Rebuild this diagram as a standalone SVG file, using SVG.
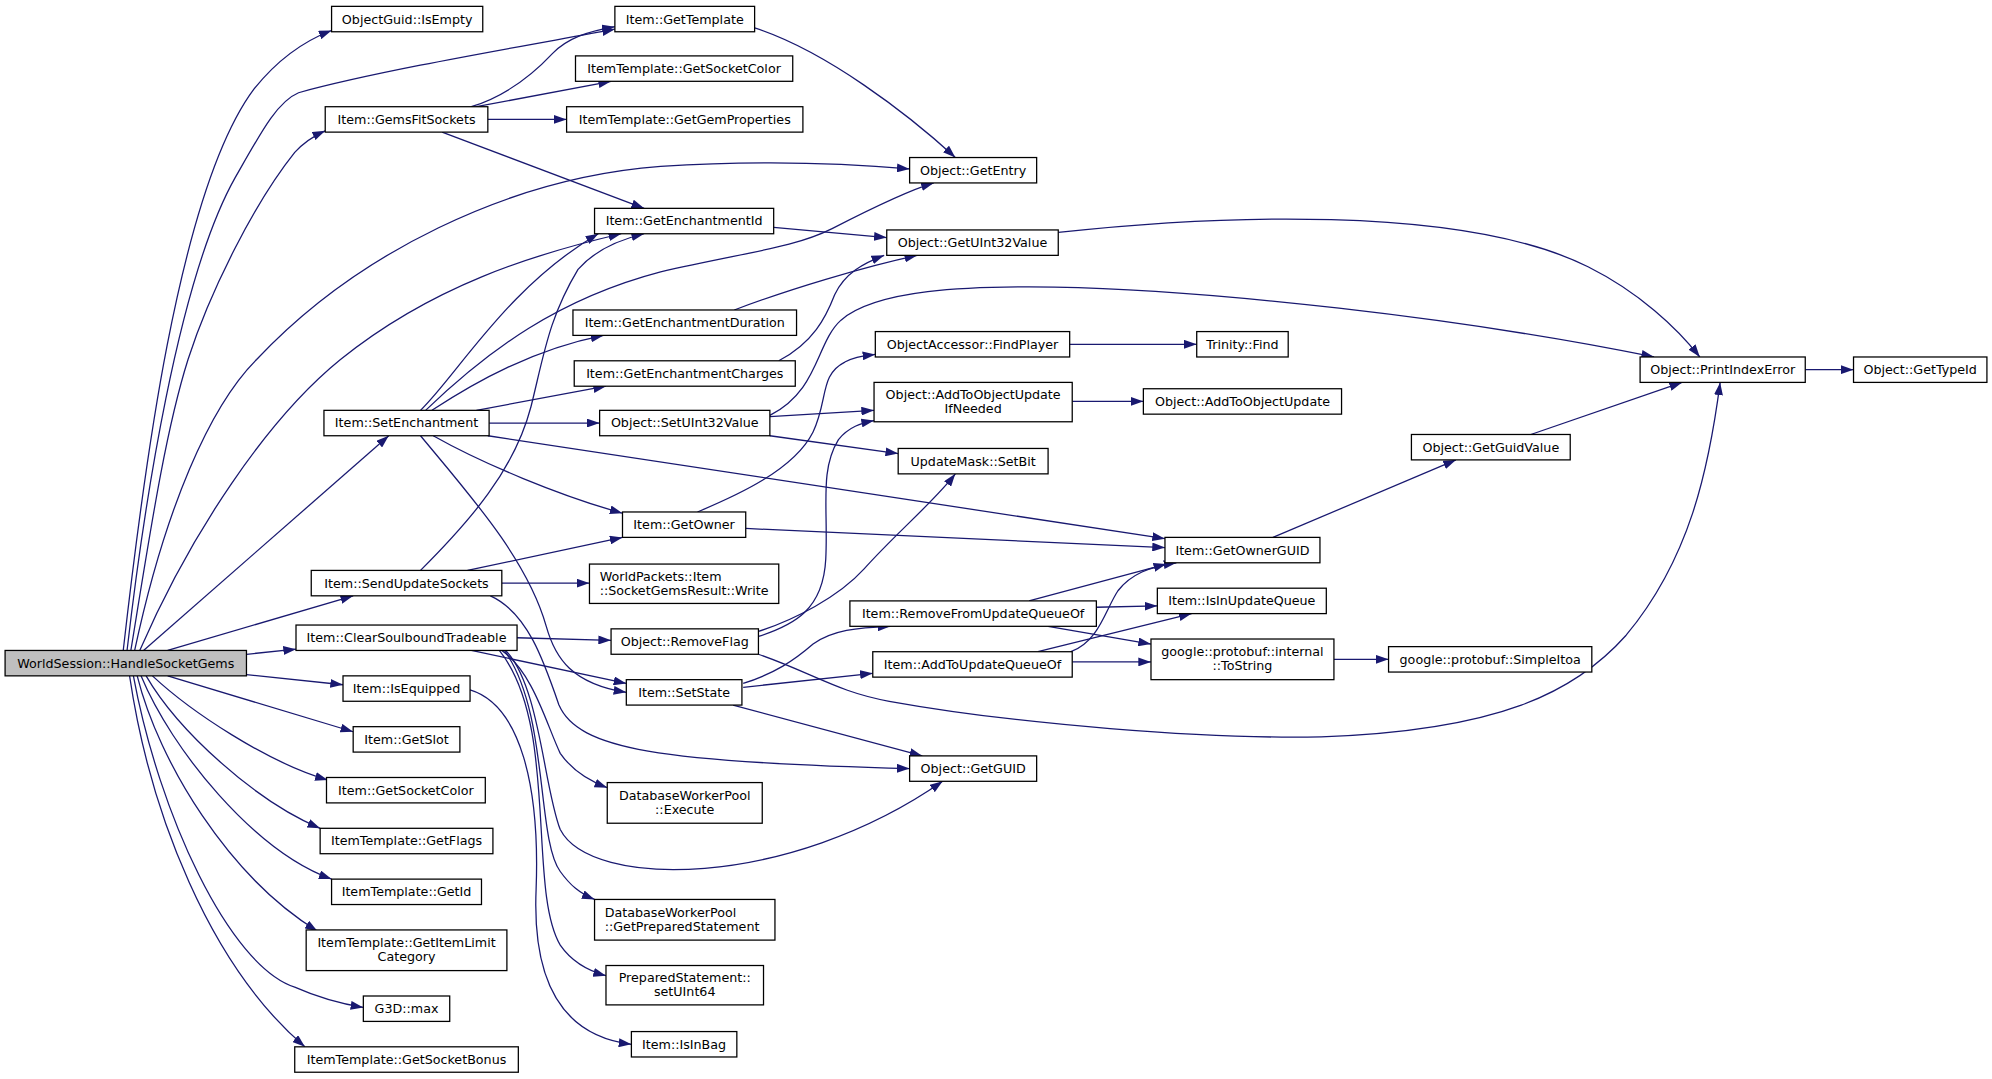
<svg xmlns="http://www.w3.org/2000/svg" width="1992" height="1079" viewBox="0 0 1992 1079">
<defs>
<style>
.node rect{fill:#ffffff;stroke:#000000;stroke-width:1}
.node.root rect{fill:#bfbfbf}
.node text{font-family:"DejaVu Sans","Liberation Sans",sans-serif;font-size:10px;fill:#000000;text-anchor:middle}
.node text.l{text-anchor:start}
.edge{fill:none;stroke:#191970;stroke-width:1;marker-end:url(#arr)}
</style>
<marker id="arr" markerUnits="userSpaceOnUse" viewBox="0 0 10 7" markerWidth="10" markerHeight="7" refX="10" refY="3.5" orient="auto">
<path d="M0,0 L10,3.5 L0,7 Z" fill="#191970"/>
</marker>
</defs>
<rect x="0" y="0" width="1992" height="1079" fill="#ffffff"/>
<g transform="scale(1.270408)">
<g id="edges">
<path class="edge" d="M97,512 C112,380 140,150 200,70 C220,45 240,32 261,24"/>
<path class="edge" d="M100,512 C113,400 140,220 185,140 C205,105 218,80 235,73 C300,55 420,35 484,23"/>
<path class="edge" d="M103,512 C118,420 130,340 148,283 C165,230 200,160 232,120 C240,111 247,107 256,103"/>
<path class="edge" d="M106,512 C130,400 165,320 202,283 C280,200 400,140 520,131 C600,126 660,128 716,133"/>
<path class="edge" d="M110,512 C150,420 210,330 268,283 C340,225 420,200 489,184"/>
<path class="edge" d="M113,512 L306,343"/>
<path class="edge" d="M132,512 L278,469"/>
<path class="edge" d="M194,515 L233,511"/>
<path class="edge" d="M194,531 L270,539"/>
<path class="edge" d="M132,532 L278,576"/>
<path class="edge" d="M120,532 C150,560 210,600 258,614"/>
<path class="edge" d="M115,532 C140,575 200,630 252,652"/>
<path class="edge" d="M111,532 C135,590 200,670 261,692"/>
<path class="edge" d="M108,532 C125,600 180,690 250,733"/>
<path class="edge" d="M105,532 C125,640 180,760 232,777 C250,785 268,790 286,793"/>
<path class="edge" d="M102,532 C118,640 165,760 240,824"/>
<path class="edge" d="M371,84 C400,75 420,58 435,42 C447,30 462,25 484,21"/>
<path class="edge" d="M375,84 L481,64"/>
<path class="edge" d="M384,94 L446,94"/>
<path class="edge" d="M348,104 L507,164"/>
<path class="edge" d="M594,22 C650,40 715,90 752,124"/>
<path class="edge" d="M609,179 L698,187"/>
<path class="edge" d="M833,183 C950,170 1150,160 1250,210 C1290,230 1320,258 1338,281"/>
<path class="edge" d="M578,244 C620,228 680,210 722,201"/>
<path class="edge" d="M613,284 C640,270 650,250 657,232 C665,215 680,207 696,201"/>
<path class="edge" d="M331,323 C360,295 400,225 471,184"/>
<path class="edge" d="M335,323 C385,275 440,235 520,214 C590,198 625,195 655,180 C690,162 715,150 735,144"/>
<path class="edge" d="M340,323 C375,300 420,275 475,264"/>
<path class="edge" d="M375,323 L477,304"/>
<path class="edge" d="M385,333 L472,333"/>
<path class="edge" d="M384,343 L917,424"/>
<path class="edge" d="M341,343 C380,365 440,390 490,404"/>
<path class="edge" d="M331,343 C370,390 415,440 430,493 C437,518 450,538 493,545"/>
<path class="edge" d="M606,328 L688,323"/>
<path class="edge" d="M606,343 L707,357"/>
<path class="edge" d="M606,327 C645,307 642,270 662,252 C690,228 760,225 830,226 C950,228 1150,250 1302,281"/>
<path class="edge" d="M842,271 L942,271"/>
<path class="edge" d="M844,316 L900,316"/>
<path class="edge" d="M1421,291 L1459,291"/>
<path class="edge" d="M1205,342 L1324,301"/>
<path class="edge" d="M1002,423 L1146,362"/>
<path class="edge" d="M587,416 L917,431"/>
<path class="edge" d="M549,403 C580,390 625,370 640,340 C652,315 645,295 665,285 C672,281 680,280 689,279"/>
<path class="edge" d="M368,449 L490,423"/>
<path class="edge" d="M395,459 L464,459"/>
<path class="edge" d="M331,449 C370,410 405,370 418,320 C428,280 432,250 455,212 C470,195 490,188 507,184"/>
<path class="edge" d="M386,469 C415,482 428,520 440,555 C455,590 520,600 716,605"/>
<path class="edge" d="M407,502 L481,504"/>
<path class="edge" d="M371,512 L493,538"/>
<path class="edge" d="M398,512 C425,540 428,620 441,653 C465,700 620,700 742,615"/>
<path class="edge" d="M395,512 C420,530 430,570 441,593 C450,606 462,614 478,620"/>
<path class="edge" d="M397,512 C432,560 422,660 441,686 C449,697 456,703 468,708"/>
<path class="edge" d="M393,512 C440,570 415,700 441,744 C450,757 462,764 477,768"/>
<path class="edge" d="M370,543 C410,555 425,620 422,700 C419,770 440,815 497,822"/>
<path class="edge" d="M597,501 C625,492 648,480 650,440 C652,400 645,370 660,346 C668,336 678,333 688,331"/>
<path class="edge" d="M597,497 C625,488 660,470 680,448 C705,420 735,395 752,373"/>
<path class="edge" d="M597,515 C640,530 660,545 700,552 C800,570 950,582 1040,580 C1180,575 1240,545 1280,500 C1330,440 1345,370 1354,301"/>
<path class="edge" d="M585,538 C610,530 625,520 640,507 C655,496 675,494 701,493"/>
<path class="edge" d="M585,541 L687,530"/>
<path class="edge" d="M577,555 L726,595"/>
<path class="edge" d="M810,473 L918,444"/>
<path class="edge" d="M863,478 L911,477"/>
<path class="edge" d="M825,493 L906,507"/>
<path class="edge" d="M843,513 C865,505 870,480 880,465 C890,452 905,446 926,443"/>
<path class="edge" d="M817,513 L938,483"/>
<path class="edge" d="M844,521 L906,521"/>
<path class="edge" d="M1050,519 L1093,519"/>
</g>
<g id="n1" class="node root"><rect x="4" y="512" width="190" height="20"/><text x="99" y="525.5">WorldSession::HandleSocketGems</text></g>
<g id="n2" class="node"><rect x="261" y="5" width="119" height="20"/><text x="320.5" y="18.5">ObjectGuid::IsEmpty</text></g>
<g id="n3" class="node"><rect x="484" y="5" width="110" height="20"/><text x="539" y="18.5">Item::GetTemplate</text></g>
<g id="n4" class="node"><rect x="453" y="44" width="171" height="20"/><text x="538.5" y="57.5">ItemTemplate::GetSocketColor</text></g>
<g id="n5" class="node"><rect x="256" y="84" width="128" height="20"/><text x="320" y="97.5">Item::GemsFitSockets</text></g>
<g id="n6" class="node"><rect x="446" y="84" width="186" height="20"/><text x="539" y="97.5">ItemTemplate::GetGemProperties</text></g>
<g id="n7" class="node"><rect x="716" y="124" width="100" height="20"/><text x="766" y="137.5">Object::GetEntry</text></g>
<g id="n8" class="node"><rect x="468" y="164" width="141" height="20"/><text x="538.5" y="177.5">Item::GetEnchantmentId</text></g>
<g id="n9" class="node"><rect x="698" y="181" width="135" height="20"/><text x="765.5" y="194.5">Object::GetUInt32Value</text></g>
<g id="n10" class="node"><rect x="451" y="244" width="176" height="20"/><text x="539" y="257.5">Item::GetEnchantmentDuration</text></g>
<g id="n11" class="node"><rect x="689" y="261" width="153" height="20"/><text x="765.5" y="274.5">ObjectAccessor::FindPlayer</text></g>
<g id="n12" class="node"><rect x="942" y="261" width="72" height="20"/><text x="978" y="274.5">Trinity::Find</text></g>
<g id="n13" class="node"><rect x="452" y="284" width="174" height="20"/><text x="539" y="297.5">Item::GetEnchantmentCharges</text></g>
<g id="n14" class="node"><rect x="1291" y="281" width="130" height="20"/><text x="1356" y="294.5">Object::PrintIndexError</text></g>
<g id="n15" class="node"><rect x="1459" y="281" width="105" height="20"/><text x="1511.5" y="294.5">Object::GetTypeId</text></g>
<g id="n16" class="node"><rect x="255" y="323" width="130" height="20"/><text x="320" y="336.5">Item::SetEnchantment</text></g>
<g id="n17" class="node"><rect x="472" y="323" width="134" height="20"/><text x="539" y="336.5">Object::SetUInt32Value</text></g>
<g id="n18" class="node"><rect x="688" y="301" width="156" height="31"/><text x="766" y="314">Object::AddToObjectUpdate</text><text x="766" y="325">IfNeeded</text></g>
<g id="n19" class="node"><rect x="900" y="306" width="156" height="20"/><text x="978" y="319.5">Object::AddToObjectUpdate</text></g>
<g id="n20" class="node"><rect x="707" y="353" width="118" height="20"/><text x="766" y="366.5">UpdateMask::SetBit</text></g>
<g id="n21" class="node"><rect x="1111" y="342" width="125" height="20"/><text x="1173.5" y="355.5">Object::GetGuidValue</text></g>
<g id="n22" class="node"><rect x="490" y="403" width="97" height="20"/><text x="538.5" y="416.5">Item::GetOwner</text></g>
<g id="n23" class="node"><rect x="917" y="423" width="122" height="20"/><text x="978" y="436.5">Item::GetOwnerGUID</text></g>
<g id="n24" class="node"><rect x="245" y="449" width="150" height="20"/><text x="320" y="462.5">Item::SendUpdateSockets</text></g>
<g id="n25" class="node"><rect x="464" y="444" width="149" height="31"/><text class="l" x="472" y="457">WorldPackets::Item</text><text class="l" x="472" y="468">::SocketGemsResult::Write</text></g>
<g id="n26" class="node"><rect x="233" y="492" width="174" height="20"/><text x="320" y="505.5">Item::ClearSoulboundTradeable</text></g>
<g id="n27" class="node"><rect x="481" y="495" width="116" height="20"/><text x="539" y="508.5">Object::RemoveFlag</text></g>
<g id="n28" class="node"><rect x="669" y="473" width="194" height="20"/><text x="766" y="486.5">Item::RemoveFromUpdateQueueOf</text></g>
<g id="n29" class="node"><rect x="911" y="463" width="133" height="20"/><text x="977.5" y="476.5">Item::IsInUpdateQueue</text></g>
<g id="n30" class="node"><rect x="687" y="513" width="157" height="20"/><text x="765.5" y="526.5">Item::AddToUpdateQueueOf</text></g>
<g id="n31" class="node"><rect x="906" y="503" width="144" height="32"/><text x="978" y="516.5">google::protobuf::internal</text><text x="978" y="527.5">::ToString</text></g>
<g id="n32" class="node"><rect x="1093" y="509" width="160" height="20"/><text x="1173" y="522.5">google::protobuf::SimpleItoa</text></g>
<g id="n33" class="node"><rect x="270" y="532" width="100" height="20"/><text x="320" y="545.5">Item::IsEquipped</text></g>
<g id="n34" class="node"><rect x="493" y="535" width="91" height="20"/><text x="538.5" y="548.5">Item::SetState</text></g>
<g id="n35" class="node"><rect x="278" y="572" width="84" height="20"/><text x="320" y="585.5">Item::GetSlot</text></g>
<g id="n36" class="node"><rect x="716" y="595" width="100" height="20"/><text x="766" y="608.5">Object::GetGUID</text></g>
<g id="n37" class="node"><rect x="257" y="612" width="125" height="20"/><text x="319.5" y="625.5">Item::GetSocketColor</text></g>
<g id="n38" class="node"><rect x="478" y="616" width="122" height="32"/><text x="539" y="629.5">DatabaseWorkerPool</text><text x="539" y="640.5">::Execute</text></g>
<g id="n39" class="node"><rect x="252" y="652" width="136" height="20"/><text x="320" y="665.5">ItemTemplate::GetFlags</text></g>
<g id="n40" class="node"><rect x="261" y="692" width="118" height="20"/><text x="320" y="705.5">ItemTemplate::GetId</text></g>
<g id="n41" class="node"><rect x="468" y="708" width="142" height="32"/><text class="l" x="476" y="721.5">DatabaseWorkerPool</text><text class="l" x="476" y="732.5">::GetPreparedStatement</text></g>
<g id="n42" class="node"><rect x="241" y="732" width="158" height="32"/><text x="320" y="745.5">ItemTemplate::GetItemLimit</text><text x="320" y="756.5">Category</text></g>
<g id="n43" class="node"><rect x="477" y="760" width="124" height="31"/><text x="539" y="773">PreparedStatement::</text><text x="539" y="784">setUInt64</text></g>
<g id="n44" class="node"><rect x="286" y="784" width="68" height="20"/><text x="320" y="797.5">G3D::max</text></g>
<g id="n45" class="node"><rect x="497" y="812" width="83" height="20"/><text x="538.5" y="825.5">Item::IsInBag</text></g>
<g id="n46" class="node"><rect x="232" y="824" width="176" height="20"/><text x="320" y="837.5">ItemTemplate::GetSocketBonus</text></g>
</g>
</svg>
